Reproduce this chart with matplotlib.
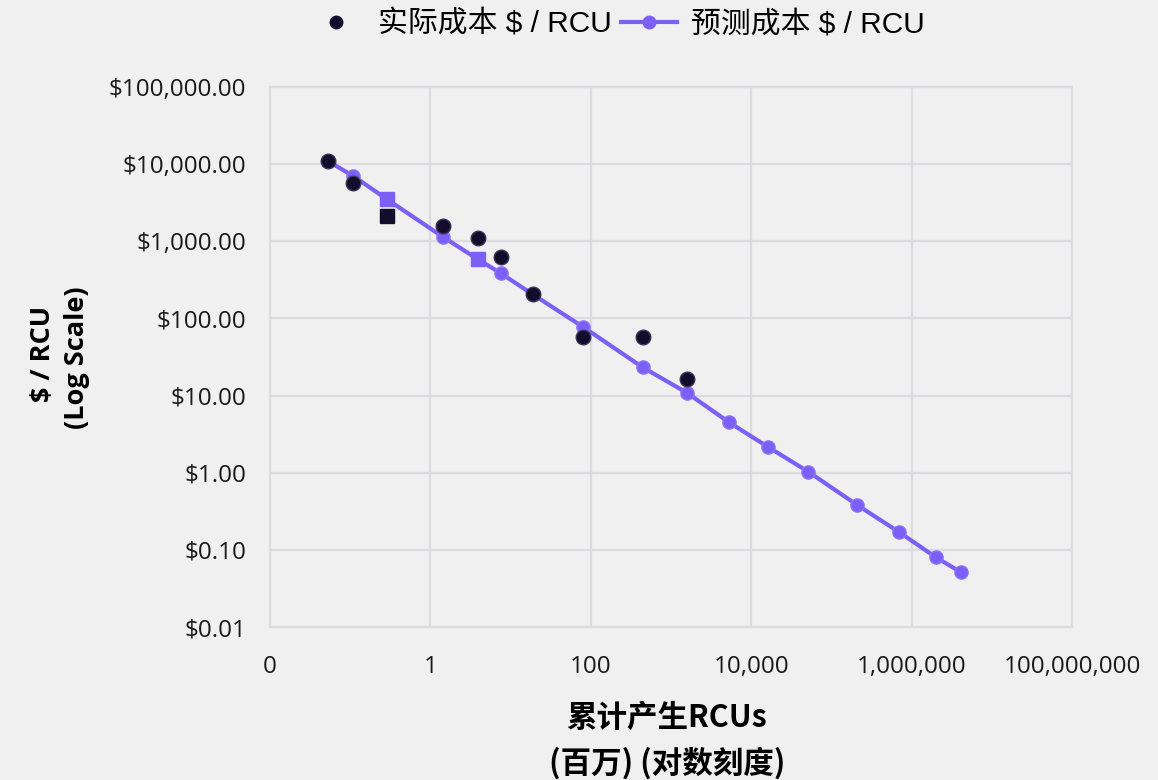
import matplotlib
matplotlib.use("Agg")
import matplotlib.pyplot as plt
from matplotlib.lines import Line2D

# cumulative RCUs produced (millions) and cost per RCU
actual_rcus = [0.0524, 0.109, 0.288, 1.42, 3.87, 7.53, 18.9, 79.3, 444, 1570]
actual_cost = [11090, 5750, 2128, 1578, 1093, 620, 205.5, 57.9, 57.9, 16.4]

pred_rcus = [0.0524, 0.109, 0.288, 1.42, 3.87, 7.53, 18.9, 79.3, 444, 1570,
             5330, 16070, 51500, 210000, 703000, 2.01e6, 4.13e6]
pred_cost = [11000, 7020, 3500, 1146, 589, 385, 205, 78.1, 23.2, 10.9,
             4.48, 2.17, 1.03, 0.381, 0.169, 0.080, 0.0512]

# a few points were exported with square markers
actual_square = [2]
pred_square = [2, 4]

x_ticks = [1e-2, 1, 1e2, 1e4, 1e6, 1e8]
x_labels = ["0", "1", "100", "10,000", "1,000,000", "100,000,000"]
y_ticks = [1e-2, 1e-1, 1, 10, 100, 1e3, 1e4, 1e5]
y_labels = ["$0.01", "$0.10", "$1.00", "$10.00", "$100.00", "$1,000.00",
            "$10,000.00", "$100,000.00"]

BG = "#f0f0f1"
GRID = "#dcdbe0"
PURPLE = "#7b5ff6"
DARK = "#110d2b"

tick_font = ["Open Sans", "Noto Sans CJK SC"]
xlabel_font = ["Noto Sans CJK SC", "DejaVu Sans"]
ylabel_font = ["Open Sans", "Noto Sans CJK SC"]
legend_font = ["Liberation Sans", "Noto Sans CJK SC"]

fig = plt.figure(figsize=(11.58, 7.8), dpi=100, facecolor=BG)
ax = fig.add_axes([270 / 1158, 153 / 780, 802 / 1158, 540 / 780], facecolor=BG)
ax.set_xscale("log")
ax.set_yscale("log")
ax.set_xlim(1e-2, 1e8)
ax.set_ylim(1e-2, 1e5)

# predicted trend line
ax.plot(pred_rcus, pred_cost, color=PURPLE, lw=3, zorder=3)
circ = [i for i in range(len(pred_rcus)) if i not in pred_square]
ax.plot([pred_rcus[i] for i in circ], [pred_cost[i] for i in circ], ls="none",
        marker="o", ms=9.5, mfc=PURPLE, mec="#8c74f7", mew=1, zorder=4)
ax.plot([pred_rcus[i] for i in pred_square], [pred_cost[i] for i in pred_square],
        ls="none", marker="s", ms=9.5, mfc=PURPLE, mec=PURPLE, zorder=4)

# actual observed cost
circ = [i for i in range(len(actual_rcus)) if i not in actual_square]
ax.plot([actual_rcus[i] for i in circ], [actual_cost[i] for i in circ], ls="none",
        marker="o", ms=10.5, mfc=DARK, mec="#3b3658", mew=1, zorder=5)
ax.plot([actual_rcus[i] for i in actual_square], [actual_cost[i] for i in actual_square],
        ls="none", marker="s", ms=9.5, mfc=DARK, mec=DARK, zorder=5)

ax.set_xticks(x_ticks)
ax.set_xticklabels(x_labels)
ax.set_yticks(y_ticks)
ax.set_yticklabels(y_labels)
ax.minorticks_off()
ax.tick_params(axis="both", length=0, labelsize=17.5, colors="#1a1a1a")
ax.tick_params(axis="x", pad=20)
ax.tick_params(axis="y", pad=17)
for lab in ax.get_xticklabels() + ax.get_yticklabels():
    lab.set_family(tick_font)

ax.grid(True, color=GRID, lw=1.6, zorder=0)
for s in ax.spines.values():
    s.set_color(GRID)
    s.set_linewidth(1.6)

fig.text(667 / 1158, 1 - 718 / 780, "累计产生RCUs", ha="center", va="center",
         fontsize=22, fontweight="bold", family=xlabel_font)
fig.text(667 / 1158, 1 - 763 / 780, "(百万) (对数刻度)", ha="center", va="center",
         fontsize=22, fontweight="bold", family=xlabel_font)
fig.text(43 / 1158, 1 - 354 / 780, "$ / RCU", ha="center", va="center", rotation=90,
         fontsize=19.5, fontweight="bold", family=ylabel_font)
fig.text(77 / 1158, 1 - 358 / 780, "(Log Scale)", ha="center", va="center", rotation=90,
         fontsize=19.5, fontweight="bold", family=ylabel_font)

handles = [
    Line2D([], [], ls="none", marker="o", ms=9, mfc=DARK, mec=DARK),
    Line2D([], [], color=PURPLE, lw=3, marker="o", ms=9, mfc=PURPLE, mec=PURPLE),
]
fig.legend(handles, ["实际成本 $ / RCU", "预测成本 $ / RCU"], loc="center",
           bbox_to_anchor=(0.532, 1 - 24 / 780), ncol=2, frameon=False,
           prop={"family": legend_font, "size": 21.5}, handlelength=1.9,
           columnspacing=0.3, handletextpad=0.45)

fig.savefig("out.png", dpi=100, facecolor=BG)
